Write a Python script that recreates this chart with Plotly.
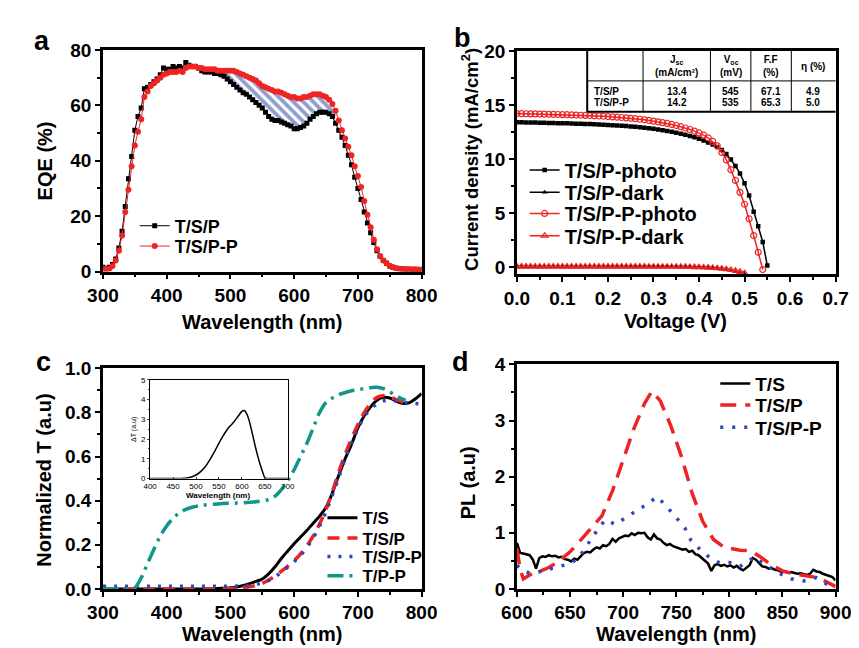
import plotly.graph_objects as go

W, H = 859, 648
FONT = "Liberation Sans, Arial, sans-serif"


def X(p):
    return p / W


def Y(p):
    return 1 - p / H


# ---------------- panel a : EQE ----------------
eqe_wl = list(range(300, 801, 5))
eqe_tsp = [1.5, 1.0, 1.5, 2.5, 4.5, 8.5, 14.5, 23.5, 33.5, 41.5,
           51.0, 56.0, 59.0, 66.0, 66.5, 67.5, 68.5, 69.5, 71.0, 73.5,
           73.0, 73.0, 74.0, 73.5, 74.0, 73.5, 75.5, 74.5, 74.0, 74.0,
           73.5, 72.5, 72.0, 72.0, 72.0, 71.5, 71.5, 71.0, 70.5, 69.5,
           68.5, 67.5, 66.5, 65.5, 64.5, 64.0, 63.0, 62.0, 61.0, 60.0,
           59.0, 57.5, 56.0, 55.0, 54.5, 54.5, 54.0, 53.5, 53.0, 52.5,
           51.5, 51.5, 52.0, 52.5, 53.5, 55.0, 56.0, 57.0, 57.5, 57.5,
           57.5, 57.0, 56.0, 53.5, 51.0, 48.5, 45.5, 42.0, 38.5, 34.0,
           30.0, 26.0, 21.5, 17.5, 14.0, 10.5, 7.5, 5.5, 4.0, 3.0,
           2.0, 1.5, 1.2, 1.0, 0.9, 0.8, 0.8, 0.7, 0.7, 0.7, 0.6]
eqe_tspp = [1.0, 0.8, 1.0, 2.0, 4.0, 7.5, 13.0, 21.5, 29.5, 38.0,
            45.5, 50.5, 55.0, 63.0, 65.0, 67.0, 68.0, 69.0, 70.0, 71.0,
            71.5, 72.0, 72.0, 72.0, 72.5, 72.0, 73.5, 74.0, 74.0, 74.0,
            73.5, 73.5, 73.0, 73.0, 73.0, 73.0, 72.5, 72.5, 72.5, 72.5,
            72.5, 72.5, 72.0, 71.5, 71.0, 70.5, 70.0, 69.5, 69.0, 68.0,
            67.0, 66.5, 66.0, 65.5, 65.0, 65.0, 64.5, 64.0, 63.5, 63.0,
            63.0, 62.5, 62.5, 63.0, 63.0, 63.5, 64.0, 64.0, 64.0, 63.5,
            63.0, 62.0, 60.5, 58.0, 54.5, 51.0, 48.0, 45.0, 42.0, 38.0,
            34.5, 30.5, 25.5, 20.5, 16.0, 11.5, 8.0, 5.5, 4.0, 3.0,
            2.0, 1.5, 1.2, 1.0, 0.9, 0.8, 0.8, 0.8, 0.8, 0.7, 0.7]
hatch_from, hatch_to = 480, 665

# ---------------- panel b : J-V ----------------
v_photo = [round(0.01 * i, 2) for i in range(56)]
jv_tsp_photo = [13.40, 13.39, 13.38, 13.37, 13.36, 13.35, 13.34, 13.33, 13.32, 13.31,
                13.30, 13.29, 13.27, 13.26, 13.25, 13.23, 13.22, 13.20, 13.18, 13.16,
                13.14, 13.12, 13.10, 13.07, 13.04, 13.01, 12.97, 12.93, 12.88, 12.83,
                12.78, 12.72, 12.66, 12.59, 12.51, 12.42, 12.33, 12.23, 12.12, 12.00,
                11.86, 11.70, 11.52, 11.32, 11.10, 10.82, 10.45, 9.95, 9.35, 8.65,
                7.75, 6.60, 5.10, 3.75, 2.30, 0.12]
jv_tspp_photo = [14.20, 14.19, 14.18, 14.17, 14.16, 14.15, 14.14, 14.13, 14.12, 14.11,
                 14.10, 14.09, 14.07, 14.06, 14.04, 14.03, 14.01, 13.99, 13.97, 13.95,
                 13.92, 13.89, 13.86, 13.83, 13.80, 13.76, 13.72, 13.67, 13.62, 13.56,
                 13.50, 13.43, 13.36, 13.28, 13.19, 13.09, 12.98, 12.86, 12.72, 12.57,
                 12.40, 12.20, 11.95, 11.62, 11.20, 10.60, 9.90, 9.00, 8.00, 6.90,
                 5.80, 4.45, 2.90, 1.35, -0.25]
v_dark = [round(0.01 * i, 2) for i in range(51)]
jv_tsp_dark = [0.02, 0.02, 0.02, 0.02, 0.02, 0.02, 0.02, 0.02, 0.02, 0.02,
               0.02, 0.02, 0.02, 0.02, 0.02, 0.02, 0.02, 0.02, 0.02, 0.02,
               0.02, 0.02, 0.02, 0.02, 0.02, 0.02, 0.02, 0.02, 0.01, 0.01,
               0.01, 0.01, 0.01, 0.00, 0.00, 0.00, -0.01, -0.01, -0.02, -0.03,
               -0.04, -0.06, -0.08, -0.11, -0.15, -0.20, -0.26, -0.33, -0.42, -0.53, -0.66]
jv_tspp_dark = [0.03, 0.03, 0.03, 0.03, 0.03, 0.03, 0.03, 0.03, 0.03, 0.03,
                0.03, 0.03, 0.03, 0.03, 0.03, 0.03, 0.03, 0.03, 0.03, 0.03,
                0.03, 0.03, 0.03, 0.03, 0.03, 0.03, 0.03, 0.03, 0.03, 0.02,
                0.02, 0.02, 0.02, 0.02, 0.01, 0.01, 0.00, 0.00, -0.01, -0.02,
                -0.03, -0.05, -0.07, -0.10, -0.13, -0.17, -0.22, -0.28, -0.36, -0.46, -0.58]

table_header = ["", "J<sub>sc</sub><br>(mA/cm²)", "V<sub>oc</sub><br>(mV)", "F.F<br>(%)", "η (%)"]
table_rows = ["T/S/P", "T/S/P-P"]
table_jsc = ["13.4", "14.2"]
table_voc = ["545", "535"]
table_ff = ["67.1", "65.3"]
table_eta = ["4.9", "5.0"]

# ---------------- panel c : transmittance ----------------
ts_wl = [300, 320, 340, 360, 380, 400, 420, 440, 460, 480, 500, 510, 520, 530, 540, 550,
         560, 570, 580, 590, 600, 610, 620, 630, 640, 650, 660, 670, 680, 690, 700, 710,
         720, 730, 740, 750, 760, 770, 780, 790, 800]
ts_T = [0.0, 0.0, 0.0, 0.0, 0.0, 0.0, 0.0, 0.0, 0.0, 0.002, 0.005, 0.009, 0.015, 0.024, 0.034, 0.045,
        0.068, 0.1, 0.138, 0.172, 0.205, 0.235, 0.265, 0.298, 0.33, 0.37, 0.435, 0.515, 0.59, 0.655, 0.73, 0.785,
        0.825, 0.855, 0.868, 0.865, 0.851, 0.841, 0.843, 0.861, 0.885]
tsp_wl = [300, 320, 340, 360, 380, 400, 420, 440, 460, 480, 500, 520, 540, 550, 560, 570, 580, 590,
          600, 610, 620, 630, 640, 650, 660, 670, 680, 690, 700, 710, 720, 730, 740, 750, 760, 770, 780]
tsp_T = [0.0, 0.0, 0.0, 0.0, 0.0, 0.0, 0.0, 0.0, 0.0, 0.0, 0.002, 0.006, 0.015, 0.025, 0.04, 0.058, 0.08, 0.103,
         0.128, 0.158, 0.195, 0.24, 0.295, 0.36, 0.44, 0.53, 0.61, 0.68, 0.745, 0.8, 0.84, 0.868, 0.876, 0.87,
         0.858, 0.848, 0.842]
tspp_wl = [300, 320, 340, 360, 380, 400, 420, 440, 460, 480, 500, 520, 540, 550, 560, 570, 580, 590, 600,
           610, 620, 630, 640, 650, 660, 670, 680, 690, 700, 710, 720, 730, 740, 750, 760, 770, 780, 790, 800]
tspp_T = [0.012, 0.012, 0.012, 0.012, 0.012, 0.012, 0.012, 0.012, 0.012, 0.012, 0.012, 0.014, 0.02, 0.027,
          0.038, 0.055, 0.075, 0.098, 0.123, 0.152, 0.188, 0.232, 0.285, 0.35, 0.425, 0.505, 0.59, 0.66, 0.725,
          0.78, 0.815, 0.838, 0.852, 0.855, 0.852, 0.846, 0.843, 0.84, 0.838]
tpp_wl = [300, 320, 340, 350, 360, 370, 380, 390, 400, 410, 420, 430, 440, 450, 460, 480, 500, 520, 540, 560,
          570, 580, 590, 600, 610, 620, 630, 640, 650, 660, 670, 680, 690, 700, 710, 720, 730, 740, 750, 760,
          770, 775]
tpp_T = [0.0, 0.0, 0.0, 0.005, 0.05, 0.115, 0.18, 0.24, 0.285, 0.32, 0.345, 0.36, 0.37, 0.376, 0.38, 0.385,
         0.388, 0.39, 0.395, 0.405, 0.42, 0.45, 0.49, 0.54, 0.6, 0.66, 0.73, 0.8, 0.845, 0.865, 0.88, 0.89,
         0.898, 0.903, 0.908, 0.912, 0.914, 0.908, 0.893, 0.875, 0.86, 0.855]
ins_wl = [400, 420, 440, 460, 470, 480, 490, 500, 510, 520, 530, 540, 550, 560, 570, 580, 590, 600, 605,
          610, 615, 620, 625, 630, 635, 640, 645, 650, 655, 660, 670, 680, 690, 700]
ins_dT = [0.0, 0.0, 0.0, 0.0, 0.01, 0.03, 0.08, 0.18, 0.35, 0.6, 0.95, 1.35, 1.8, 2.2, 2.55, 2.8, 3.1, 3.4,
          3.45, 3.3, 3.0, 2.55, 2.05, 1.55, 1.1, 0.7, 0.35, 0.05, 0.0, 0.0, 0.0, 0.0, 0.0, 0.0]

# ---------------- panel d : PL ----------------
pl_ts_wl = list(range(600, 901, 3))
pl_ts = [0.82, 0.64, 0.63, 0.62, 0.60, 0.52, 0.36, 0.55, 0.58, 0.57,
         0.60, 0.58, 0.59, 0.56, 0.57, 0.53, 0.52, 0.49, 0.54, 0.52,
         0.58, 0.64, 0.66, 0.65, 0.70, 0.74, 0.72, 0.78, 0.76, 0.80,
         0.89, 0.84, 0.90, 0.92, 0.95, 0.94, 0.99, 0.96, 1.00, 0.99,
         1.00, 0.92, 0.88, 0.97, 0.90, 0.88, 0.82, 0.78, 0.80, 0.76,
         0.74, 0.72, 0.70, 0.71, 0.66, 0.68, 0.62, 0.60, 0.55, 0.50,
         0.45, 0.32, 0.42, 0.44, 0.41, 0.43, 0.40, 0.42, 0.38, 0.41,
         0.36, 0.33, 0.38, 0.42, 0.55, 0.52, 0.46, 0.40, 0.39, 0.36,
         0.37, 0.34, 0.33, 0.30, 0.31, 0.29, 0.30, 0.28, 0.27, 0.28,
         0.26, 0.25, 0.27, 0.34, 0.31, 0.30, 0.27, 0.25, 0.24, 0.21, 0.15]
pl_tsp_wl = [600, 603, 606, 610, 615, 620, 630, 640, 650, 660, 670, 680, 690, 700, 710, 720, 727, 735,
             745, 755, 765, 775, 785, 795, 810, 820, 830, 840, 850, 860, 870, 880, 890, 900]
pl_tsp = [0.72, 0.35, 0.18, 0.22, 0.28, 0.3, 0.38, 0.5, 0.66, 0.87, 1.08, 1.3, 1.75, 2.3, 2.85, 3.3, 3.52,
          3.35, 2.9, 2.35, 1.7, 1.2, 0.88, 0.74, 0.69, 0.68, 0.56, 0.42, 0.32, 0.27, 0.24, 0.21, 0.14, 0.04]
pl_tspp_wl = [600, 605, 612, 620, 630, 640, 650, 658, 666, 675, 683, 693, 704, 712, 720, 726, 732, 740,
              750, 758, 764, 773, 782, 791, 800, 810, 818, 824, 830, 840, 848, 858, 870, 882, 892, 900]
pl_tspp = [0.42, 0.33, 0.28, 0.3, 0.35, 0.4, 0.45, 0.55, 0.78, 1.03, 1.23, 1.15, 1.29, 1.38, 1.48, 1.56,
           1.64, 1.49, 1.26, 1.09, 0.86, 0.69, 0.55, 0.46, 0.47, 0.4, 0.5, 0.57, 0.48, 0.36, 0.27, 0.18,
           0.14, 0.2, 0.08, 0.02]

RED = "#ee2424"
BLUE = "#2b48b8"
HATCH = "#1f3a9e"
TEAL = "#11968a"

fig = go.Figure()

# panel a: hatched region between the two EQE curves
i0, i1 = eqe_wl.index(hatch_from), eqe_wl.index(hatch_to) + 1
fig.add_trace(go.Scatter(x=eqe_wl[i0:i1], y=eqe_tsp[i0:i1], mode="lines", line=dict(width=0),
                         showlegend=False, hoverinfo="skip", xaxis="x", yaxis="y"))
fig.add_trace(go.Scatter(x=eqe_wl[i0:i1], y=eqe_tspp[i0:i1], mode="lines", line=dict(width=0),
                         fill="tonexty", fillcolor="white",
                         fillpattern=dict(shape="\\", fgcolor=HATCH, bgcolor="white", size=7, solidity=0.55),
                         showlegend=False, hoverinfo="skip", xaxis="x", yaxis="y"))
fig.add_trace(go.Scatter(x=eqe_wl, y=eqe_tsp, name="T/S/P", mode="lines+markers",
                         line=dict(color="black", width=1),
                         marker=dict(symbol="square", size=5, color="black"),
                         xaxis="x", yaxis="y", legend="legend"))
fig.add_trace(go.Scatter(x=eqe_wl, y=eqe_tspp, name="T/S/P-P", mode="lines+markers",
                         line=dict(color=RED, width=1),
                         marker=dict(symbol="circle", size=6, color=RED),
                         xaxis="x", yaxis="y", legend="legend2"))

# panel b
fig.add_trace(go.Scatter(x=v_photo, y=jv_tsp_photo, name="T/S/P-photo", mode="lines+markers",
                         line=dict(color="black", width=1.5),
                         marker=dict(symbol="square", size=4.5, color="black"),
                         xaxis="x2", yaxis="y2", legend="legend3"))
fig.add_trace(go.Scatter(x=v_dark, y=jv_tsp_dark, name="T/S/P-dark", mode="lines+markers",
                         line=dict(color="black", width=1.5),
                         marker=dict(symbol="triangle-up", size=5, color="black"),
                         xaxis="x2", yaxis="y2", legend="legend4"))
fig.add_trace(go.Scatter(x=v_photo[:len(jv_tspp_photo)], y=jv_tspp_photo, name="T/S/P-P-photo",
                         mode="lines+markers", line=dict(color=RED, width=1.5),
                         marker=dict(symbol="circle-open", size=6, color=RED, line=dict(width=1.2)),
                         xaxis="x2", yaxis="y2", legend="legend5"))
fig.add_trace(go.Scatter(x=v_dark, y=jv_tspp_dark, name="T/S/P-P-dark", mode="lines+markers",
                         line=dict(color=RED, width=1.5),
                         marker=dict(symbol="triangle-up-open", size=6, color=RED, line=dict(width=1.2)),
                         xaxis="x2", yaxis="y2", legend="legend6"))

# panel c
fig.add_trace(go.Scatter(x=ts_wl, y=ts_T, name="T/S", mode="lines", line=dict(color="black", width=3, shape="spline"),
                         xaxis="x3", yaxis="y3", legend="legend7"))
fig.add_trace(go.Scatter(x=tsp_wl, y=tsp_T, name="T/S/P", mode="lines",
                         line=dict(color=RED, width=3.5, dash="12px,8px", shape="spline"),
                         xaxis="x3", yaxis="y3", legend="legend8"))
fig.add_trace(go.Scatter(x=tspp_wl, y=tspp_T, name="T/S/P-P", mode="lines",
                         line=dict(color=BLUE, width=3.5, dash="3px,8px", shape="spline"),
                         xaxis="x3", yaxis="y3", legend="legend9"))
fig.add_trace(go.Scatter(x=tpp_wl, y=tpp_T, name="T/P-P", mode="lines",
                         line=dict(color=TEAL, width=3.5, dash="16px,6px,3px,6px", shape="spline"),
                         xaxis="x3", yaxis="y3", legend="legend10"))
fig.add_trace(go.Scatter(x=ins_wl, y=ins_dT, mode="lines", line=dict(color="black", width=1.5, shape="spline"),
                         showlegend=False, xaxis="x5", yaxis="y5"))

# panel d
fig.add_trace(go.Scatter(x=pl_ts_wl, y=pl_ts, name="T/S", mode="lines", line=dict(color="black", width=2.5),
                         xaxis="x4", yaxis="y4", legend="legend11"))
fig.add_trace(go.Scatter(x=pl_tsp_wl, y=pl_tsp, name="T/S/P", mode="lines",
                         line=dict(color=RED, width=3.5, dash="16px,9px"),
                         xaxis="x4", yaxis="y4", legend="legend12"))
fig.add_trace(go.Scatter(x=pl_tspp_wl, y=pl_tspp, name="T/S/P-P", mode="lines",
                         line=dict(color=BLUE, width=3.5, dash="3px,9px"),
                         xaxis="x4", yaxis="y4", legend="legend13"))


def axis(dom, rng, dtick, mdtick, anchor, fmt=None, tick0=None):
    d = dict(domain=dom, range=rng, dtick=dtick, anchor=anchor,
             showline=True, linecolor="black", linewidth=2.5, mirror=True,
             ticks="outside", ticklen=5, tickwidth=2, tickcolor="black",
             showgrid=False, zeroline=False,
             tickfont=dict(family=FONT, size=19, color="black", weight="bold"),
             minor=dict(dtick=mdtick, ticks="outside", ticklen=3, tickwidth=1.5, tickcolor="black", showgrid=False))
    if fmt:
        d["tickformat"] = fmt
    if tick0 is not None:
        d["tick0"] = tick0
    return d


def leg(x, y, size):
    return dict(x=X(x), y=Y(y), xanchor="left", yanchor="middle", bgcolor="rgba(0,0,0,0)",
                borderwidth=0, itemwidth=30, font=dict(family=FONT, size=size, color="black", weight="bold"))


layout = dict(
    width=W, height=H, margin=dict(l=0, r=0, t=0, b=0),
    paper_bgcolor="white", plot_bgcolor="white",
    font=dict(family=FONT, color="black", weight="bold"),
    xaxis=axis([X(82), X(413)], [300, 800], 100, 50, "y"),
    yaxis=axis([Y(262), Y(33)], [0, 80], 20, 10, "x"),
    xaxis2=axis([X(512), X(843)], [0, 0.7], 0.1, 0.05, "y2", ".1f", 0),
    yaxis2=axis([Y(265), Y(34)], [-0.7, 20], 5, 2.5, "x2", None, 0),
    xaxis3=axis([X(82), X(413)], [300, 800], 100, 50, "y3"),
    yaxis3=axis([Y(590), Y(362)], [0, 1.0], 0.2, 0.1, "x3", ".1f"),
    xaxis4=axis([X(512), X(843)], [600, 900], 50, 25, "y4"),
    yaxis4=axis([Y(590), Y(358)], [0, 4], 1, 0.5, "x4"),
    xaxis5=dict(domain=[X(131), X(274)], range=[400, 700], dtick=50, anchor="y5",
                showline=True, linecolor="black", linewidth=1, mirror=True,
                ticks="inside", ticklen=2, tickwidth=1, showgrid=False, zeroline=False,
                ticklabelstandoff=0,
                tickfont=dict(family=FONT, size=8, color="black", weight="normal")),
    yaxis5=dict(domain=[Y(476), Y(374)], range=[0, 5], dtick=1, anchor="x5",
                showline=True, linecolor="black", linewidth=1, mirror=True,
                ticks="outside", ticklen=2, tickwidth=1, showgrid=False, zeroline=False,
                minor=dict(dtick=0.5, ticks="outside", ticklen=1.5, tickwidth=1),
                tickfont=dict(family=FONT, size=8, color="black", weight="normal")),
    legend=leg(115, 215, 18), legend2=leg(115, 236, 18),
    legend3=leg(520, 157, 20), legend4=leg(520, 180, 20), legend5=leg(520, 202, 20), legend6=leg(520, 225, 20),
    legend7=leg(310, 517, 17), legend8=leg(310, 538, 17), legend9=leg(310, 557, 17), legend10=leg(310, 577, 17),
    legend11=leg(718, 378, 19), legend12=leg(718, 400, 19), legend13=leg(718, 423, 19),
)
fig.update_layout(**layout)

ann = []


def text(x, y, s, size, angle=0, weight="bold", xanchor="center"):
    ann.append(dict(x=X(x), y=Y(y), xref="paper", yref="paper", text=s, showarrow=False,
                    xanchor=xanchor, yanchor="middle", textangle=angle,
                    font=dict(family=FONT, size=size, color="black", weight=weight)))


# panel letters
text(19, 24, "a", 27)
text(455, 21, "b", 27)
text(20, 356, "c", 27)
text(453, 356, "d", 27)
# axis titles
text(247, 314, "Wavelength (nm)", 20)
text(22, 148, "EQE (%)", 20, -90)
text(677, 313, "Voltage (V)", 20)
text(464, 146, "Current density (mA/cm<sup>2</sup>)", 18.5, -90)
text(247, 637, "Wavelength (nm)", 20)
text(20, 478, "Normalized T (a.u)", 20, -90)
text(677, 637, "Wavelength (nm)", 20)
text(462, 480, "PL (a.u)", 20, -90)
# inset titles
text(202, 494, "Wavelength (nm)", 8)
text(115, 425, "ΔT (a.u)", 7, -90, "normal")

# table in panel b
col_edges = [585, 643, 713, 755, 797, 843]
tab_top, tab_mid, tab_bot = 34, 65, 97
shapes = [dict(type="line", xref="paper", yref="paper", x0=X(col_edges[0]), x1=X(col_edges[-1]),
               y0=Y(tab_bot), y1=Y(tab_bot), line=dict(color="black", width=2)),
          dict(type="line", xref="paper", yref="paper", x0=X(col_edges[0]), x1=X(col_edges[0]),
               y0=Y(tab_top), y1=Y(tab_bot), line=dict(color="black", width=2)),
          dict(type="line", xref="paper", yref="paper", x0=X(col_edges[0]), x1=X(col_edges[-1]),
               y0=Y(tab_mid), y1=Y(tab_mid), line=dict(color="black", width=1))]
for ce in col_edges[1:-1]:
    shapes.append(dict(type="line", xref="paper", yref="paper", x0=X(ce), x1=X(ce),
                       y0=Y(tab_top), y1=Y(tab_bot), line=dict(color="black", width=1)))
centers = [(col_edges[i] + col_edges[i + 1]) / 2 for i in range(5)]
for i, h in enumerate(table_header):
    if h:
        text(centers[i], 50, h, 10)
for r, name in enumerate(table_rows):
    yy = 76 + 11 * r
    text(590, yy, name, 10, xanchor="left")
    for c, col in enumerate([table_jsc, table_voc, table_ff, table_eta]):
        text(centers[c + 1], yy, col[r], 10)

fig.update_layout(annotations=ann, shapes=shapes)
fig.write_html("out.html")
